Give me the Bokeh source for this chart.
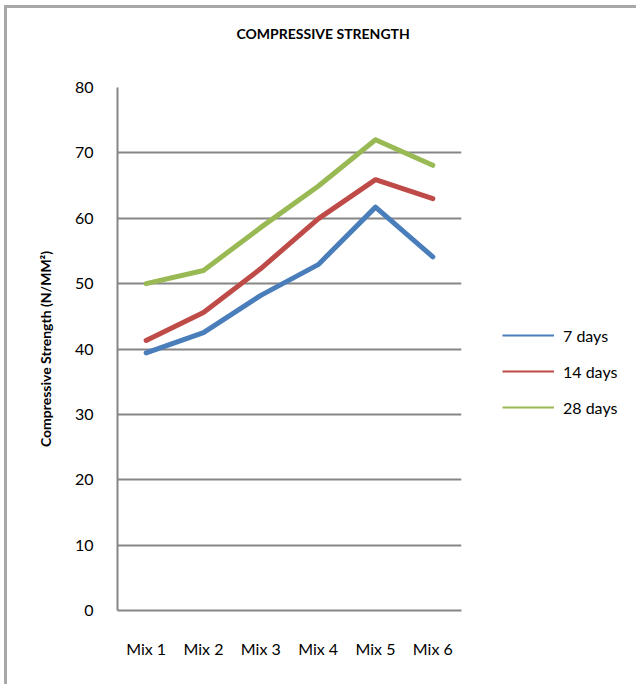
from bokeh.plotting import figure
from bokeh.models import Legend, LegendItem, FactorRange, Range1d, SingleIntervalTicker, Title
from bokeh.embed import file_html
from bokeh.resources import INLINE

mixes = ["Mix 1", "Mix 2", "Mix 3", "Mix 4", "Mix 5", "Mix 6"]
days7 = [39.4, 42.5, 48.2, 52.9, 61.7, 54.1]
days14 = [41.3, 45.6, 52.3, 59.9, 65.9, 63.0]
days28 = [50.0, 52.0, 58.6, 64.9, 72.0, 68.1]
series_names = ["7 days", "14 days", "28 days"]
colors = ["#4A7EBB", "#BE4B48", "#98B954"]

FONT = "Lato"

p = figure(width=629, height=676, output_backend="svg", toolbar_location=None,
           x_range=FactorRange(*mixes, range_padding=0), y_range=Range1d(0, 80),
           min_border_left=110, min_border_right=175, min_border_top=79, min_border_bottom=74)
p.frame_width = 344
p.frame_height = 523
p.outline_line_color = None
p.background_fill_color = "white"
p.border_fill_color = "white"
p.styles = {"margin-left": "4px", "margin-top": "5px",
            "border-left": "3px solid #a8a8a8", "border-top": "3px solid #a8a8a8"}

spacer = Title(text=" ", standoff=27, text_font=FONT, text_font_size="14px")
p.add_layout(spacer, "above")
title = Title(text="COMPRESSIVE STRENGTH", align="left", offset=119, standoff=0,
              text_font=FONT, text_font_size="14px", text_font_style="bold", text_color="#000000")
p.add_layout(title, "above")

p.xgrid.grid_line_color = None
p.ygrid.grid_line_color = "#868686"
p.ygrid.grid_line_width = 2
p.yaxis.ticker = SingleIntervalTicker(interval=10)

for ax in (p.xaxis, p.yaxis):
    ax.axis_line_color = "#868686"
    ax.axis_line_width = 2
    ax.major_tick_line_color = None
    ax.minor_tick_line_color = None
    ax.major_tick_out = 0
    ax.major_tick_in = 0
    ax.major_label_text_font = FONT
    ax.major_label_text_font_size = "16px"
    ax.major_label_text_color = "#000000"

p.yaxis.major_label_standoff = 20
p.xaxis.major_label_standoff = 28
p.yaxis.axis_label = "Compressive Strength (N/MM²)"
p.yaxis.axis_label_text_font = FONT
p.yaxis.axis_label_text_font_size = "14px"
p.yaxis.axis_label_text_font_style = "bold"
p.yaxis.axis_label_text_color = "#000000"
p.yaxis.axis_label_standoff = 18

items = []
for name, vals, c in zip(series_names, [days7, days14, days28], colors):
    thin = p.line(mixes, vals, line_color=c, line_width=2)
    p.line(mixes, vals, line_color=c, line_width=5, line_join="round", line_cap="round")
    items.append(LegendItem(label=name, renderers=[thin]))

legend = Legend(items=items, location=(41, 193), orientation="vertical",
                glyph_width=52, glyph_height=20, label_height=20, spacing=16,
                label_standoff=9, padding=10, margin=0,
                label_text_font=FONT, label_text_font_size="16px", label_text_color="#000000",
                border_line_color=None, background_fill_alpha=0)
p.add_layout(legend, "right")

open("out.html", "w").write(file_html(p, INLINE))
